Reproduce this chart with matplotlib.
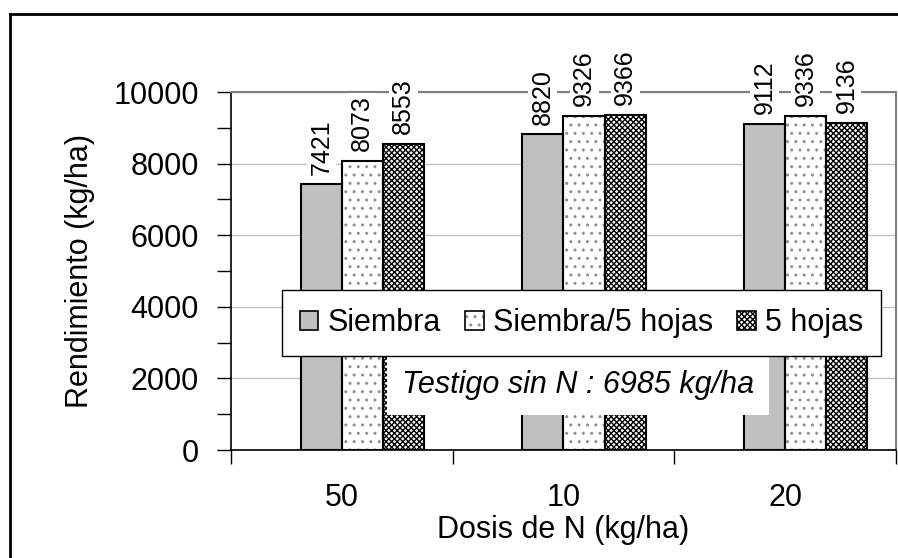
import numpy as np
import matplotlib
matplotlib.use('Agg')
import matplotlib.pyplot as plt
from matplotlib.patches import Patch
from matplotlib.lines import Line2D
from matplotlib.ticker import MultipleLocator, FixedLocator

plt.rcParams['font.family'] = ['Liberation Sans', 'DejaVu Sans']
plt.rcParams['hatch.linewidth'] = 1.0

# data
dosis = ['50', '10', '20']
series = ['Siembra', 'Siembra/5 hojas', '5 hojas']
siembra = [7421, 8820, 9112]
siembra_5h = [8073, 9326, 9336]
cinco_hojas = [8553, 9366, 9136]
testigo = 6985

values = [siembra, siembra_5h, cinco_hojas]
faces = ['#C0C0C0', 'white', 'white']
hatch_colors = ['#C0C0C0', '#909090', 'black']
hatches = [None, '..', 'xxxxxx']
offsets = [-0.0925, 0.0925, 0.2775]
width = 0.185

fig = plt.figure(figsize=(8.98, 5.58), dpi=100)
ax = fig.add_axes([0.2572, 0.1935, 0.7406, 0.6416])

x = np.arange(len(dosis))

# gridlines
ax.set_axisbelow(True)
ax.yaxis.grid(True, which='major', color='#C0C0C0', linewidth=1)

handles = []
for vals, fc, hc, h, off, name in zip(values, faces, hatch_colors, hatches, offsets, series):
    ax.bar(x + off, vals, width, color=fc, edgecolor=hc, hatch=h, linewidth=0, zorder=2)
    ax.bar(x + off, vals, width, fill=False, edgecolor='black', linewidth=1.5, zorder=3)
    for xi, v in zip(x + off, vals):
        ax.annotate(f'{v}', (xi, v), xytext=(0, 7), textcoords='offset points',
                    rotation=90, ha='center', va='bottom', fontsize=18,
                    bbox=dict(boxstyle='square,pad=0.1', fc='white', ec='none'), zorder=4)
    handles.append((Patch(facecolor=fc, edgecolor=hc, hatch=h, linewidth=0),
                    Patch(fill=False, edgecolor='black', linewidth=1.2)))

ax.set_xlim(-0.5, 2.5)
ax.set_ylim(0, 10000)

# y axis
ax.yaxis.set_major_locator(MultipleLocator(2000))
ax.yaxis.set_minor_locator(MultipleLocator(1000))
ax.tick_params(axis='y', which='both', direction='out', length=10, width=1, labelsize=22, pad=13)

# x axis: ticks at boundaries, labels at centers
ax.xaxis.set_major_locator(FixedLocator([-0.5, 0.5, 1.5, 2.5]))
ax.xaxis.set_minor_locator(FixedLocator(x))
ax.set_xticklabels([], minor=False)
ax.set_xticklabels(dosis, minor=True)
ax.tick_params(axis='x', which='major', direction='out', length=10, width=1)
ax.tick_params(axis='x', which='minor', length=0, labelsize=22, pad=24)

for s in ['left', 'bottom']:
    ax.spines[s].set_color('black')
    ax.spines[s].set_linewidth(1.2)
for s in ['top', 'right']:
    ax.spines[s].set_color('#808080')
    ax.spines[s].set_linewidth(1.5)

ax.set_xlabel('Dosis de N (kg/ha)', fontsize=22)
ax.xaxis.set_label_coords(0.5, -0.2235)
ax.xaxis.label.set_va('center')
ax.set_ylabel('Rendimiento (kg/ha)', fontsize=22)
ax.yaxis.set_label_coords(-0.227, 0.5)
ax.yaxis.label.set_va('center')

leg = fig.legend(handles, series, loc='center', bbox_to_anchor=(0.6476, 0.4211),
                 ncol=3, fontsize=22, frameon=True, fancybox=False, framealpha=1,
                 handlelength=0.6, handleheight=0.6, handletextpad=0.3,
                 columnspacing=0.8, borderpad=0.6, borderaxespad=0)
leg.get_frame().set_edgecolor('black')
leg.get_frame().set_linewidth(1)

fig.text(0.6437, 0.31, f'Testigo sin N : {testigo} kg/ha', fontsize=22, style='italic',
         ha='center', va='center',
         bbox=dict(boxstyle='square,pad=0.5', fc='white', ec='none'))

# outer frame (cropped at right and bottom)
fig.add_artist(Line2D([10 / 898, 1.0], [1 - 14 / 558] * 2, color='black', lw=2))
fig.add_artist(Line2D([10 / 898] * 2, [0, 1 - 14 / 558], color='black', lw=2))

fig.savefig('out.png', dpi=100)
